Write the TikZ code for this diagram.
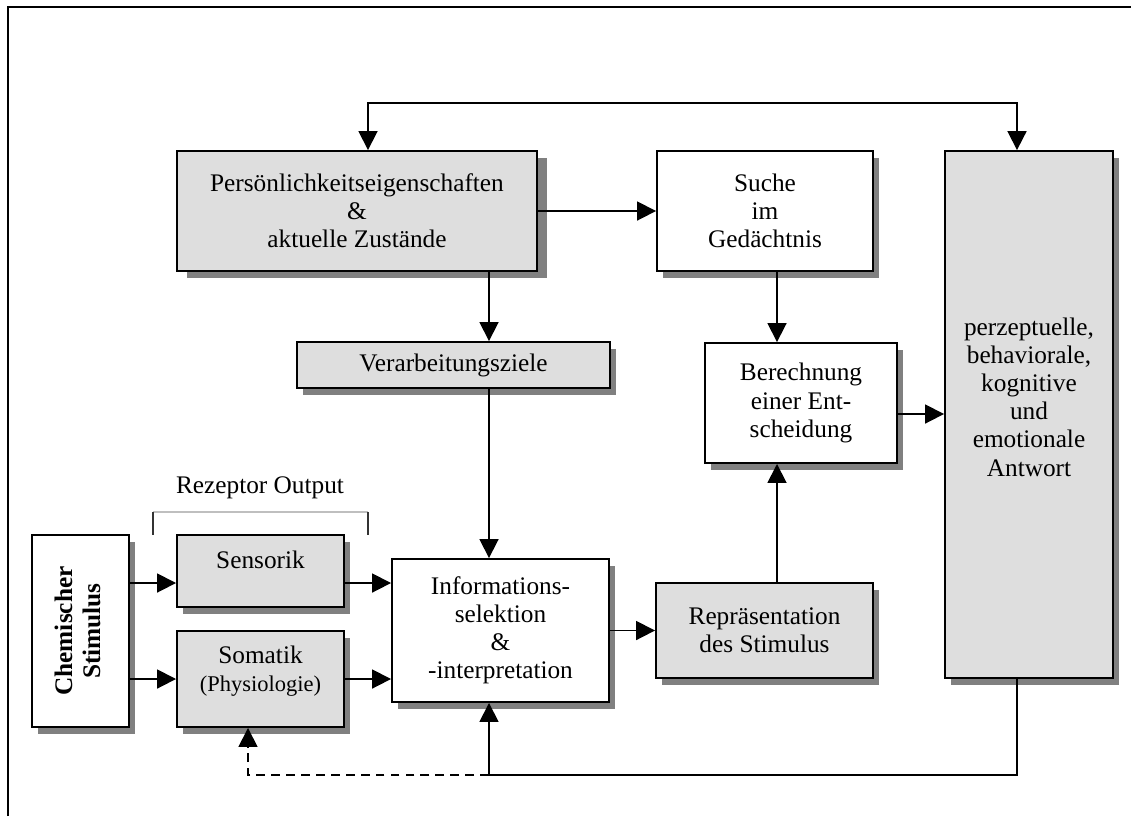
\documentclass[tikz,border=0pt]{standalone}
\usepackage{fontspec}
\setmainfont{Liberation Serif}
\usetikzlibrary{arrows.meta,shadows,calc}

\begin{document}
\begin{tikzpicture}[x=0.02cm, y=-0.02cm, line width=1pt,
    >={Triangle[length=0.38cm,width=0.38cm]},
    box/.style={draw, line width=1.1pt, align=center, inner sep=0pt,
      drop shadow={shadow xshift=#1, shadow yshift=-0.14cm, fill=black!50, opacity=1}},
    box/.default=0.12cm,
    grey box/.style={box=#1, fill=black!13},
    grey box/.default=0.12cm,
    white box/.style={box, fill=white}]
  \tikzstyle{every node}=[font=\fontsize{14.4}{16}\selectfont]

  \useasboundingbox (0,0) rectangle (1131,816);
  \draw[line width=1.2pt] (8,816) -- (8,7) -- (1131,7);

  % upper row
  \node[grey box=0.2cm, minimum width=7.2cm, minimum height=2.4cm] (pers) at (357,211)
    {Persönlichkeitseigenschaften\\\&\\aktuelle Zustände};
  \node[white box, minimum width=4.32cm, minimum height=2.4cm] (suche) at (765,211)
    {Suche\\im\\Gedächtnis};
  \node[grey box, minimum width=3.36cm, minimum height=10.54cm, text depth=20pt] (antwort) at (1029,414.5)
    {perzeptuelle,\\behaviorale,\\kognitive\\und\\emotionale\\Antwort};

  % middle
  \node[grey box, minimum width=6.26cm, minimum height=0.92cm] (ziele) at (453.5,365)
    {Verarbeitungsziele};
  \node[white box, minimum width=3.84cm, minimum height=2.4cm] (entscheidung) at (801,403)
    {Berechnung\\einer Ent-\\scheidung};

  % lower row
  \node[white box, minimum width=1.94cm, minimum height=3.84cm] (stimulus) at (80.5,631)
    {\rotatebox{90}{\bfseries\begin{tabular}{@{}c@{}}Chemischer\\Stimulus\end{tabular}}};
  \node[grey box, minimum width=3.34cm, minimum height=1.44cm, text depth=12.5pt] (sensorik) at (260.5,571)
    {Sensorik};
  \node[grey box, minimum width=3.34cm, minimum height=1.92cm, text depth=12pt] (somatik) at (260.5,679)
    {Somatik\\{\fontsize{12.8}{16}\selectfont(Physiologie)}};
  \node[white box, minimum width=4.34cm, minimum height=2.86cm] (info) at (500.5,630.5)
    {Informations-\\selektion\\\&\\-interpretation};
  \node[grey box, minimum width=4.34cm, minimum height=1.9cm] (repr) at (764.5,630.5)
    {Repräsentation\\des Stimulus};

  \node (rezeptor) at (260,488) {Rezeptor Output};
  \draw[black!25, line width=.6pt] (153,512) -- (368,512);
  \draw[black!80, line width=.8pt] (153,512) -- (153,535) (368,512) -- (368,535);

  % bend points
  \coordinate (top l) at (368,103);
  \coordinate (top r) at (1017,103);
  \coordinate (bot r) at (1017,775);
  \coordinate (bot m) at (489,775);
  \coordinate (bot l) at (248,775);
  \coordinate (mitte) at (777,0);
  \coordinate (sens in) at (0,583);
  \coordinate (ber out) at (0,414);

  \draw[<->] (pers.north -| top l) -- (top l) -- (top r) -- (antwort.north -| top r);
  \draw[->] (pers.east) -- (suche.west);
  \draw[->] (pers.south -| bot m) -- (ziele.north -| bot m);
  \draw[->] (ziele.south -| bot m) -- (info.north -| bot m);
  \draw[->] (suche.south -| mitte) -- (entscheidung.north -| mitte);
  \draw[->] (repr.north -| mitte) -- (entscheidung.south -| mitte);
  \draw[->] (entscheidung.east |- ber out) -- (antwort.west |- ber out);
  \draw[->] (stimulus.east |- sens in) -- (sensorik.west |- sens in);
  \draw[->] (stimulus.east |- somatik.west) -- (somatik.west);
  \draw[->] (sensorik.east |- sens in) -- (info.west |- sens in);
  \draw[->] (somatik.east) -- (info.west |- somatik.east);
  \draw[->] (info.east) -- (repr.west);
  \draw[->] (antwort.south -| bot r) -- (bot r) -- (bot m) -- (info.south -| bot m);
  \draw[->, dash pattern=on 5pt off 3.5pt] (bot m) -- (bot l) -- (somatik.south -| bot l);
\end{tikzpicture}
\end{document}
